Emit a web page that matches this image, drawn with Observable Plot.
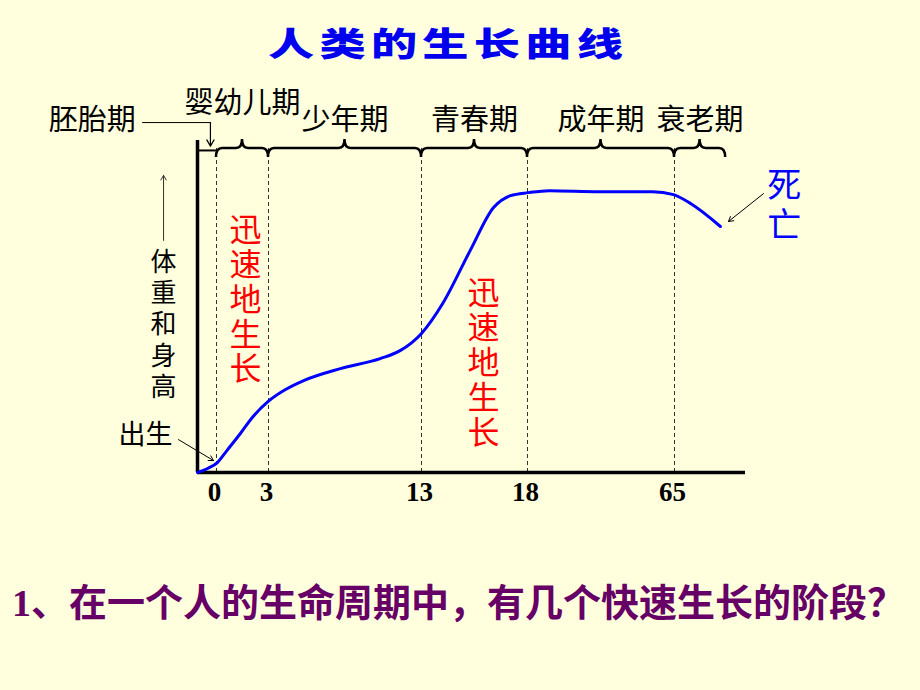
<!DOCTYPE html>
<html><head><meta charset="utf-8">
<script src="https://cdn.jsdelivr.net/npm/d3@7"></script>
<script src="https://cdn.jsdelivr.net/npm/@observablehq/plot@0.6"></script>
<style>
html,body{margin:0;padding:0;background:#FFFFDD;width:920px;height:690px;overflow:hidden;}
#title{height:84px;line-height:84px;padding-left:268px;white-space:nowrap}
#title span{display:inline-block;font-family:"Noto Sans CJK SC";font-weight:900;font-size:44px;letter-spacing:5px;color:#0000EE;transform:scale(1.05,0.75);transform-origin:left center}
#q{height:98px;line-height:98px;padding-left:12px;font-family:"Liberation Serif","Noto Sans CJK SC";font-weight:700;font-size:38px;color:#660066;white-space:nowrap}
#chart svg{display:block}
</style></head><body>
<div id="title"><span>人类的生长曲线</span></div>
<div id="chart"></div>
<div id="q">1、在一个人的生命周期中，有几个快速生长的阶段？</div>
<script>
// growth curve (age in years, relative body size)
const ages  = [-0.75,-0.35,0.05,0.6,1.4,2.1,3,4,5.3,7.7,10.3,11.6,13,14,15.3,16.4,17.2,18.3,25,41,58,64.7,68.4,74.7];
const sizes = [0,1.2,3.0,6.6,11.9,16.8,21.5,24.7,27.7,31.3,34.3,36.7,41.9,50.9,66.9,79.8,83.4,84.3,84.9,84.6,84.6,83.7,81.0,74.1];

// axis ticks
const tickValues = [0, 3, 13, 18, 65];
const tickLabels = ["0", "3", "13", "18", "65"];

// life periods
const periodNames = ["婴幼儿期", "少年期", "青春期", "成年期", "衰老期"];
const periodStart = [0, 3, 13, 18, 65];
const periodEnd   = [3, 13, 18, 65, 75.8];
const embryoName = "胚胎期";
const embryoSpan = [-0.75, 0];

// annotations
const yLabel = "体\n重\n和\n身\n高";
const rapidLabel = "迅\n速\n地\n生\n长";
const rapidAt = [[1.67, 52.1], [15.92, 33.0]];
const birthLabel = "出生";
const deathLabel = "死\n亡";

// the schematic age axis is not to scale: each period gets its own stretch
const ageBreaks = [-0.75, 0, 3, 13, 18, 65, 80];
const axisUnits = [0, 19, 71, 224, 330, 477, 548];
const ageToAxis = d3.scaleLinear().domain(ageBreaks).range(axisUnits);

const curve = ages.map((a, i) => ({age: a, size: sizes[i]}));
const ticks = tickValues.map((v, i) => ({v, label: tickLabels[i]}));
const periods = periodNames.map((n, i) => ({name: n, a: periodStart[i], b: periodEnd[i], mid: (periodStart[i] + periodEnd[i]) / 2}));

const braceLevel = 97.6;
const labelLevel = 106;

const cjk = "Noto Sans CJK SC";

function braces(index, scales) {
  const B = scales.y(braceLevel);
  const r = 6, h = 9;
  let d = "";
  for (const p of periods) {
    const x0 = scales.x(ageToAxis(p.a)), x1 = scales.x(ageToAxis(p.b)), m = (x0 + x1) / 2;
    d += `M${x0},${B + h}Q${x0},${B} ${x0 + r},${B}L${m - r},${B}Q${m},${B} ${m},${B - h}`;
    d += `Q${m},${B} ${m + r},${B}L${x1 - r},${B}Q${x1},${B} ${x1},${B + h}`;
  }
  const path = document.createElementNS("http://www.w3.org/2000/svg", "path");
  path.setAttribute("d", d);
  path.setAttribute("fill", "none");
  path.setAttribute("stroke", "#000");
  path.setAttribute("stroke-width", "2.5");
  return path;
}

const chart = Plot.plot({
  width: 920,
  height: 470,
  marginLeft: 197, marginRight: 175, marginTop: 56, marginBottom: 82,
  x: {transform: ageToAxis, domain: [0, 548], axis: null},
  y: {domain: [0, 100], axis: null},
  style: {background: "transparent", overflow: "visible"},
  marks: [
    // dashed period boundaries
    Plot.ruleX(tickValues, {y1: 0, y2: braceLevel, stroke: "#333", strokeWidth: 1, strokeDasharray: "4,3"}),
    // embryo segment
    Plot.ruleY([embryoSpan], {x1: d => d[0], x2: d => d[1], y: braceLevel - 0.6, stroke: "#000", strokeWidth: 2}),
    braces,
    // axes
    Plot.ruleX([-0.75], {y1: 0, y2: 100, stroke: "#000", strokeWidth: 3.5}),
    Plot.ruleY([0], {x1: -0.75, x2: 80, stroke: "#000", strokeWidth: 3.5}),
    // growth curve
    Plot.line(curve, {x: "age", y: "size", curve: "monotone-x", stroke: "#0000FF", strokeWidth: 3}),
    // tick labels
    Plot.text(ticks, {x: "v", y: -6, text: "label", fontFamily: "Liberation Serif", fontWeight: "bold", fontSize: 27, fill: "#000", dx: -2}),
    // period labels
    Plot.text(periods, {x: "mid", y: d => d.name === "婴幼儿期" ? 111 : labelLevel, text: "name", fontFamily: cjk, fontSize: 29, fill: "#000"}),
    Plot.text([embryoName], {x: -4.9, y: labelLevel, text: d => d, fontFamily: cjk, fontSize: 29, fill: "#000"}),
    Plot.line([[-2.92, 105.4], [-0.24, 105.4]], {stroke: "#000", strokeWidth: 1}),
    Plot.arrow([0], {x1: -0.24, y1: 105.4, x2: -0.24, y2: 98.3, stroke: "#000", strokeWidth: 1.2, headLength: 9}),
    // y label
    Plot.text([yLabel], {x: -2.09, y: 44.9, text: d => d, fontFamily: cjk, fontSize: 26, lineHeight: 1.2, fill: "#000"}),
    Plot.arrow([0], {x1: -2.09, y1: 69.9, x2: -2.09, y2: 89.5, stroke: "#333", strokeWidth: 1, headLength: 8}),
    // rapid growth labels
    Plot.text(rapidAt, {x: d => d[0], y: d => d[1], text: () => rapidLabel, fontFamily: cjk, fontSize: 32, lineHeight: 1.09, fill: "#FF0000"}),
    // birth
    Plot.text([birthLabel], {x: -2.8, y: 11.1, text: d => d, fontFamily: cjk, fontSize: 27, fill: "#000"}),
    Plot.arrow([0], {x1: -1.5, y1: 9.9, x2: -0.12, y2: 3.6, stroke: "#000", strokeWidth: 1, headLength: 8}),
    // death
    Plot.text([deathLabel], {x: 88.2, y: 80.7, text: d => d, fontFamily: cjk, fontSize: 34, lineHeight: 1.18, fill: "#0000FF"}),
    Plot.arrow([0], {x1: 83.8, y1: 84.0, x2: 76.4, y2: 75.6, stroke: "#000", strokeWidth: 1, headLength: 8})
  ]
});
document.getElementById("chart").appendChild(chart);
</script>
</body></html>
